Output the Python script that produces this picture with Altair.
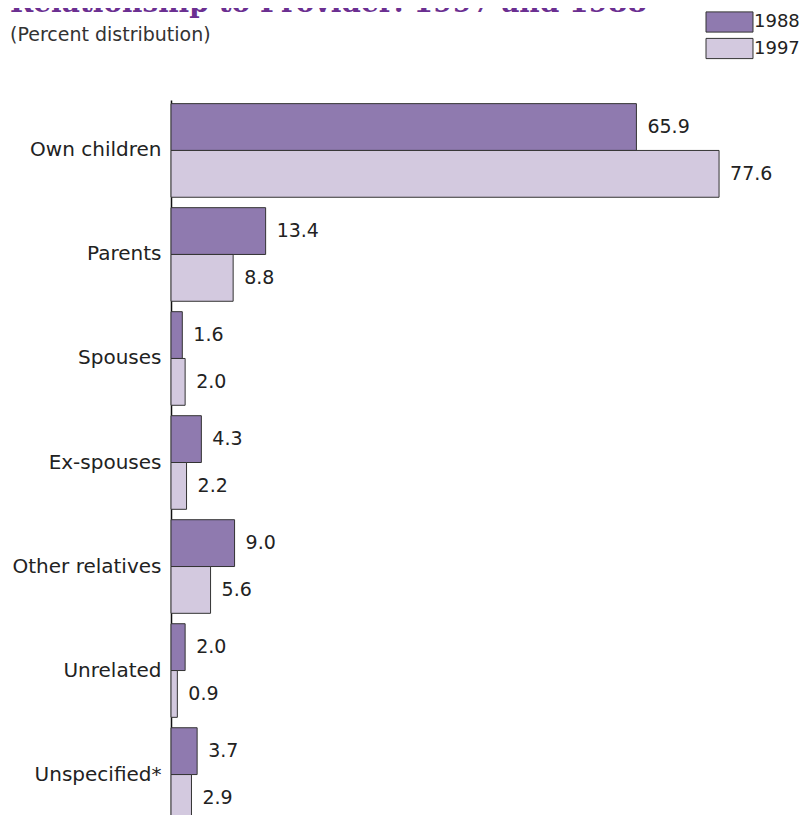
import altair as alt
import pandas as pd

categories = ["Own children", "Parents", "Spouses", "Ex-spouses",
              "Other relatives", "Unrelated", "Unspecified*"]
values_1988 = [65.9, 13.4, 1.6, 4.3, 9.0, 2.0, 3.7]
values_1997 = [77.6, 8.8, 2.0, 2.2, 5.6, 0.9, 2.9]
years = ["1988", "1997"]
colors = ["#8f7aaf", "#d3c9df"]
title_text = "Relationship to Provider: 1997 and 1988"
subtitle_text = "(Percent distribution)"

rows = []
for c, a, b in zip(categories, values_1988, values_1997):
    rows.append({"category": c, "year": "1988", "value": a})
    rows.append({"category": c, "year": "1997", "value": b})
df = pd.DataFrame(rows)
df["label"] = df["value"].map(lambda v: f"{v:.1f}")

W, H = 565, 715
Y_RANGE = 725
FONT = "DejaVu Sans"

y_enc = alt.Y(
    "category:N", sort=categories,
    scale=alt.Scale(paddingInner=0.1, paddingOuter=0.035, range=[0, Y_RANGE]),
    axis=alt.Axis(title=None, ticks=False, labelFontSize=20, labelPadding=10,
                  labelColor="#222", labelFont=FONT, domainColor="#111",
                  domainWidth=1.5, labelLimit=300, grid=False),
)
x_enc = alt.X("value:Q", scale=alt.Scale(domain=[0, 80], nice=False), axis=None)
yoff = alt.YOffset("year:N", sort=years, scale=alt.Scale(paddingInner=0, paddingOuter=0))

bars = alt.Chart(df).mark_bar(stroke="#333", strokeWidth=1).encode(
    x=x_enc, y=y_enc, yOffset=yoff,
    color=alt.Color(
        "year:N", scale=alt.Scale(domain=years, range=colors),
        legend=alt.Legend(
            title=None, orient="none", legendX=546, legendY=-90.5,
            symbolType="M-2,-0.86H2V0.86H-2Z", symbolSize=552,
            symbolStrokeColor="#333", symbolStrokeWidth=1, symbolOpacity=1,
            labelFontSize=18, labelFont=FONT, labelColor="#222",
            labelOffset=12, rowPadding=1.5, padding=0,
        ),
    ),
)

labels = alt.Chart(df).mark_text(
    align="left", baseline="middle", dx=11, fontSize=19, font=FONT, color="#222"
).encode(x=x_enc, y=y_enc, yOffset=yoff, text="label:N")

tdf = pd.DataFrame({"t": [title_text]})
sdf = pd.DataFrame({"t": [subtitle_text]})
title = alt.Chart(tdf).mark_text(
    align="left", baseline="alphabetic", fontSize=28, font="DejaVu Serif",
    fontWeight="bold", color="#6b2f91"
).encode(x=alt.value(-161), y=alt.value(-88), text="t:N")
subtitle = alt.Chart(sdf).mark_text(
    align="left", baseline="middle", fontSize=19, font=FONT, color="#333"
).encode(x=alt.value(-161), y=alt.value(-65), text="t:N")

chart = alt.layer(bars, labels, title, subtitle).properties(
    width=W, height=H,
    autosize=alt.AutoSizeParams(type="none"),
    padding={"left": 163, "top": 92, "right": 67, "bottom": 0},
).configure_view(stroke=None)

chart.save("out.html", embed_options={"renderer": "svg", "actions": False})
